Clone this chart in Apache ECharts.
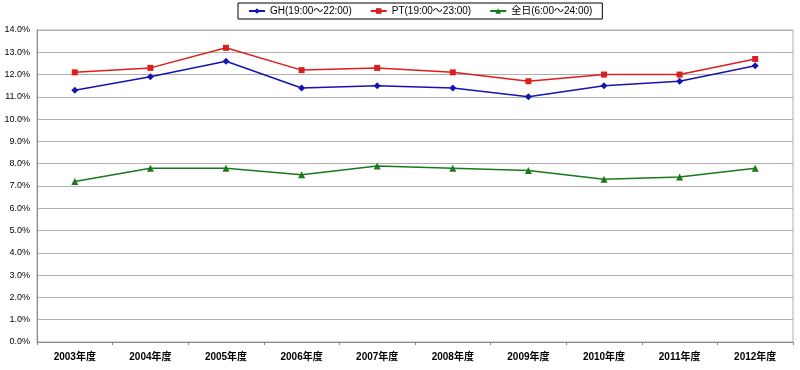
<!DOCTYPE html>
<html><head><meta charset="utf-8">
<script src="https://cdn.jsdelivr.net/npm/echarts@6/dist/echarts.min.js"></script>
<style>html,body{margin:0;padding:0;background:#fff}#c{width:800px;height:370px}</style>
</head><body><div id="c"></div>
<script>
var categories = ['2003年度','2004年度','2005年度','2006年度','2007年度','2008年度','2009年度','2010年度','2011年度','2012年度'];
var ghValues = [11.3, 11.9, 12.6, 11.4, 11.5, 11.4, 11.0, 11.5, 11.7, 12.4];
var ptValues = [12.1, 12.3, 13.2, 12.2, 12.3, 12.1, 11.7, 12.0, 12.0, 12.7];
var allValues = [7.2, 7.8, 7.8, 7.5, 7.9, 7.8, 7.7, 7.3, 7.4, 7.8];
var seriesNames = ['GH(19:00～22:00)', 'PT(19:00～23:00)', '全日(6:00～24:00)'];

var font = '"Liberation Sans", "Noto Sans CJK JP", sans-serif';
var chart = echarts.init(document.getElementById('c'));
chart.setOption({
  animation: false,
  textStyle: {fontFamily: font},
  legend: {
    top: 3, left: 238,
    itemWidth: 16, itemHeight: 7, itemGap: 18,
    borderColor: '#000', borderWidth: 1, padding: [3, 10],
    textStyle: {fontSize: 10, color: '#000', fontFamily: font}
  },
  grid: {left: 37, right: 7, top: 30, bottom: 28, show: true, borderColor: '#b0b0b0', borderWidth: 1},
  xAxis: {
    type: 'category', data: categories, boundaryGap: true,
    axisLine: {lineStyle: {color: '#888', width: 1}},
    axisTick: {show: true, length: 3, lineStyle: {color: '#888'}},
    axisLabel: {fontSize: 10, fontWeight: 'bold', color: '#000', margin: 10, fontFamily: font}
  },
  yAxis: {
    type: 'value', min: 0, max: 14, interval: 1,
    axisLine: {show: true, lineStyle: {color: '#888'}},
    axisTick: {show: false},
    splitLine: {lineStyle: {color: '#b0b0b0', width: 1}},
    axisLabel: {fontSize: 9, color: '#000', margin: 7, formatter: function(v){return v.toFixed(1)+'%';}}
  },
  series: [
    {name: seriesNames[0], type: 'line', data: ghValues, symbol: 'diamond', symbolSize: 7,
     color: '#1414b4', lineStyle: {width: 1.5}},
    {name: seriesNames[1], type: 'line', data: ptValues, symbol: 'rect', symbolSize: 6,
     color: '#dc1e1e', lineStyle: {width: 1.5}},
    {name: seriesNames[2], type: 'line', data: allValues, symbol: 'triangle', symbolSize: 7,
     color: '#1a7a1a', lineStyle: {width: 1.5}}
  ]
});
</script></body></html>
